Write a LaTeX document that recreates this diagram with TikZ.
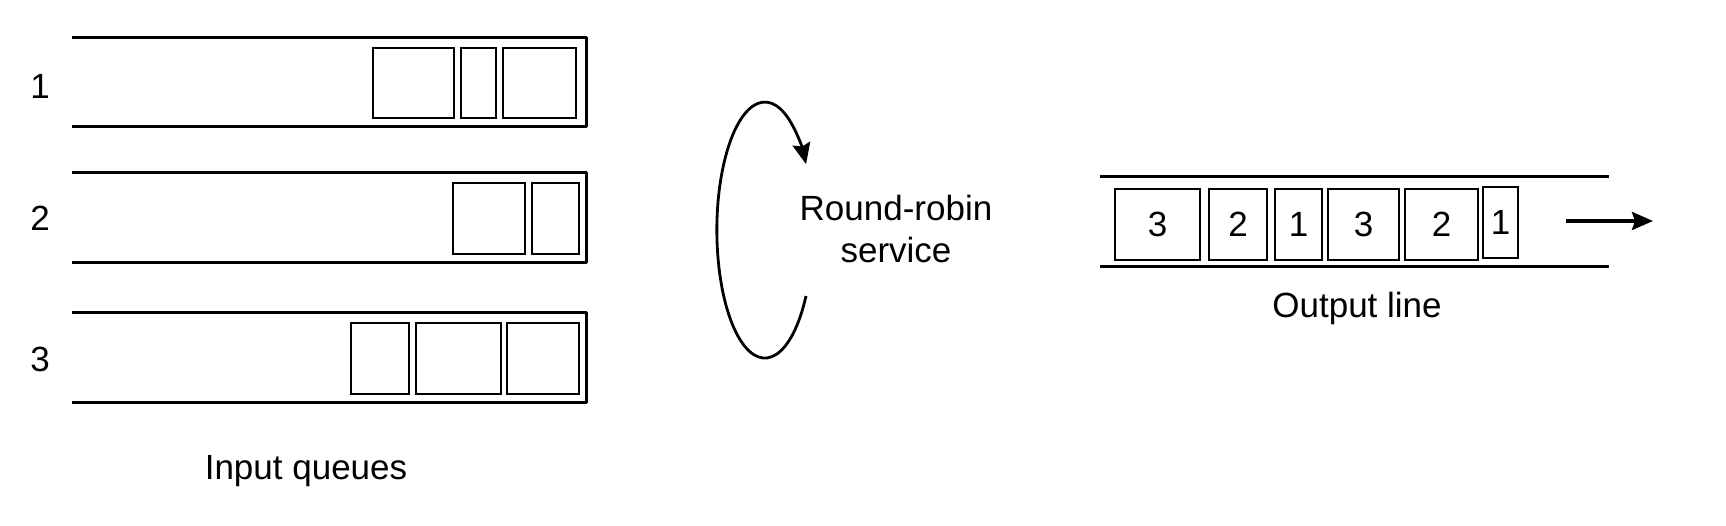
\documentclass[tikz,border=0pt]{standalone}
\usepackage{fontspec}
\setmainfont{Liberation Sans}
\usepackage{tikz}
\usetikzlibrary{arrows.meta,positioning,calc}
\tikzset{
    queue/.style={draw, line width=3pt, line join=round},
    packet/.style={rectangle, draw, line width=2.8pt, inner sep=0pt, minimum height=71pt},
    label/.style={inner sep=0pt},
    line/.style={draw, line width=2.8pt, -{Stealth[length=21pt, width=18pt, inset=3pt]}}
}

\begin{document}
\begin{tikzpicture}[x=1pt, y=1pt, font=\fontsize{35}{42}\selectfont]
    \useasboundingbox (0,0) rectangle (1726,526);

    % Input queues
    \draw [queue] (72,488) -| (586,399) -- (72,399);
    \draw [queue] (72,353) -| (586,263) -- (72,263);
    \draw [queue] (72,213) -| (586,123) -- (72,123);
    \node [label] (q1) at (40,440) {1};
    \node [label] (q2) at (40,308) {2};
    \node [label] (q3) at (40,167) {3};

    % Packets waiting in the queues
    \node [packet, minimum width=81pt, minimum height=70pt] (q1a) at (413.5,443) {};
    \node [packet, minimum width=35pt, minimum height=70pt] (q1b) at (478.5,443) {};
    \node [packet, minimum width=73pt, minimum height=70pt] (q1c) at (539.5,443) {};
    \node [packet, minimum width=72pt] (q2a) at (489,307.5) {};
    \node [packet, minimum width=47pt] (q2b) at (555.5,307.5) {};
    \node [packet, minimum width=58pt] (q3a) at (380,167.5) {};
    \node [packet, minimum width=85pt] (q3b) at (458.5,167.5) {};
    \node [packet, minimum width=72pt] (q3c) at (543,167.5) {};
    \node [label, anchor=base] (inlabel) at (306,46) {Input queues};

    % Round-robin service
    \coordinate (rrstart) at (806,230);
    \draw [line] (rrstart) arc [start angle=-31, end angle=-329, x radius=48, y radius=128];
    \node [label, align=center] (rr) at (896,297.5) {Round-robin\\service};

    % Output line
    \draw [queue] (1100,349) -- (1609,349);
    \draw [queue] (1100,259) -- (1609,259);
    \node [packet, minimum width=85pt] (o1) at (1157.5,301.5) {3};
    \node [packet, minimum width=58pt] (o2) at (1238,301.5) {2};
    \node [packet, minimum width=47pt] (o3) at (1298.5,301.5) {1};
    \node [packet, minimum width=71pt] (o4) at (1363.5,301.5) {3};
    \node [packet, minimum width=73pt] (o5) at (1441.5,301.5) {2};
    \node [packet, minimum width=35pt] (o6) at (1500.5,303.5) {1};
    \node [label, anchor=base] (outlabel) at (1357,208) {Output line};

    \coordinate (outfrom) at (1566,305);
    \coordinate (outto) at (1653,305);
    \path [line, line width=3.6pt] (outfrom) -- (outto);
\end{tikzpicture}
\end{document}
